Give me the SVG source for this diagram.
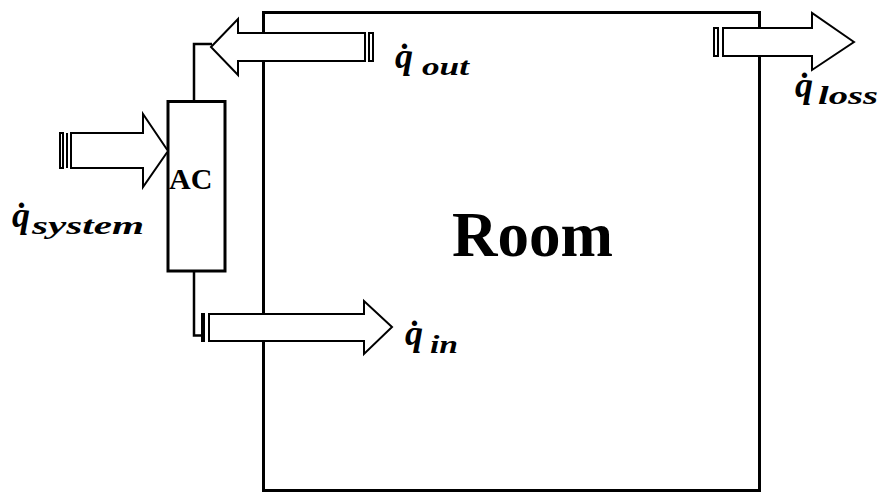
<svg xmlns="http://www.w3.org/2000/svg" width="880" height="493" viewBox="0 0 880 493">
<style>
.room{fill:#fff;stroke:#000;stroke-width:3}
.box{fill:#fff;stroke:#000;stroke-width:3}
.arrow{fill:#fff;stroke:#000;stroke-width:2;stroke-linejoin:miter}
.stripe{fill:#fff;stroke:#000;stroke-width:2}
.wire{fill:none;stroke:#000;stroke-width:2.5}
.q{font-family:"Liberation Serif",serif;font-weight:bold;font-style:italic;font-size:36px;fill:#000}
.sub{font-family:"Liberation Serif",serif;font-weight:bold;font-style:italic;font-size:25px;fill:#000}
.title{font-family:"Liberation Serif",serif;font-weight:bold;fill:#000}
</style>
<rect width="880" height="493" fill="#fff"/>
<g id="room">
<rect class="room" x="263.5" y="12.5" width="496" height="478"/>
<text class="title" x="452" y="256" font-size="63">Room</text>
</g>
<g id="ac">
<rect class="box" x="168" y="101.5" width="57" height="169.5"/>
<text class="title" x="169" y="189" font-size="30">AC</text>
</g>
<g id="connectors">
<path class="wire" d="M194,101 V44 H212"/>
<path class="wire" d="M194,271 V335.5 H203"/>
</g>
<g id="arrow-out">
<polygon class="arrow" points="211,47 238,19 238,33 365,33 365,61 238,61 238,75"/>
<rect class="stripe" x="369" y="33" width="4" height="28"/>
<text class="q" x="395" y="68">q&#x307;</text>
<text class="sub" x="422" y="75" textLength="47" lengthAdjust="spacingAndGlyphs">out</text>
</g>
<g id="arrow-loss">
<polygon class="arrow" points="854,42 812,13 812,28 723,28 723,56 812,56 812,70"/>
<rect class="stripe" x="714" y="28" width="4" height="28"/>
<text class="q" x="795" y="97">q&#x307;</text>
<text class="sub" x="818" y="104" textLength="60" lengthAdjust="spacingAndGlyphs">loss</text>
</g>
<g id="arrow-system">
<polygon class="arrow" points="168,151 143,114 143,133 71,133 71,168 143,168 143,187"/>
<rect class="stripe" x="60" y="133" width="3" height="35"/>
<line x1="67" y1="133" x2="67" y2="168" stroke="#000" stroke-width="2"/>
<text class="q" x="12" y="227">q&#x307;</text>
<text class="sub" x="32" y="234" textLength="112" lengthAdjust="spacingAndGlyphs">system</text>
</g>
<g id="arrow-in">
<polygon class="arrow" points="392,327 364,301 364,314 209,314 209,341 364,341 364,354"/>
<rect class="stripe" x="202" y="314" width="2" height="27"/>
<text class="q" x="405" y="345">q&#x307;</text>
<text class="sub" x="430" y="353" textLength="28" lengthAdjust="spacingAndGlyphs">in</text>
</g>
</svg>
